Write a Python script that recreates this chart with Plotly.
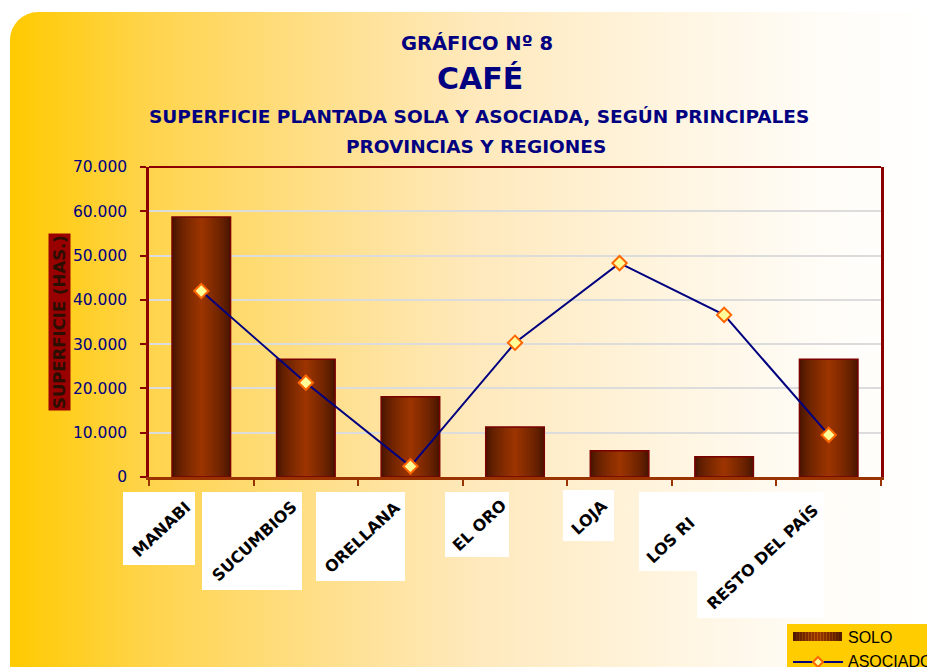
import base64
import plotly.graph_objects as go

# ---------------- data ----------------
categories = ["MANABI", "SUCUMBIOS", "ORELLANA", "EL ORO", "LOJA", "LOS RIOS", "RESTO DEL PAÍS"]
tick_labels = ["MANABI", "SUCUMBIOS", "ORELLANA", "EL ORO", "LOJA", "LOS RI", "RESTO DEL PAÍS"]
solo = [58700, 26600, 18100, 11300, 5900, 4600, 26600]
asociado = [42000, 21300, 2400, 30300, 48300, 36600, 9500]
y_ticks = [0, 10000, 20000, 30000, 40000, 50000, 60000, 70000]
series_names = ["SOLO", "ASOCIADO"]

title_lines = ["GRÁFICO Nº 8", "CAFÉ",
               "SUPERFICIE PLANTADA SOLA Y ASOCIADA, SEGÚN PRINCIPALES",
               "PROVINCIAS Y REGIONES"]
y_title = "SUPERFICIE (HAS.)"

# ---------------- geometry helpers (page pixels -> paper) ----------------
W, H = 927, 667
L, R, T, B = 149, 46, 167, 190
PW = W - L - R
PH = H - T - B


def PX(x):
    return (x - L) / PW


def PY(y):
    return ((H - B) - y) / PH


NAVY = "#000080"

# ---------------- background gradient (svg data uri) ----------------
bg_w, bg_h = 930, 690
svg = f"""<svg xmlns='http://www.w3.org/2000/svg' width='{bg_w}' height='{bg_h}' viewBox='0 0 {bg_w} {bg_h}' preserveAspectRatio='none'>
<defs><linearGradient id='g' x1='0' x2='1' y1='0' y2='0'>
<stop offset='0' stop-color='#FFCA00'/>
<stop offset='0.15' stop-color='#FFD44C'/>
<stop offset='0.35' stop-color='#FFE08F'/>
<stop offset='0.5' stop-color='#FFE9BC'/>
<stop offset='0.7' stop-color='#FFF4DE'/>
<stop offset='0.86' stop-color='#FFFCF6'/>
<stop offset='1' stop-color='#FFFFFF'/>
</linearGradient></defs>
<rect x='0' y='0' width='{bg_w}' height='{bg_h + 60}' rx='28' ry='28' fill='url(#g)'/>
</svg>"""
bg_uri = "data:image/svg+xml;base64," + base64.b64encode(svg.encode()).decode()

fig = go.Figure()

# ---------------- bars with layered gradient ----------------
edge = (72, 22, 0)
center = (155, 52, 0)
N = 14
BW = 0.56
for k in range(N):
    t = (k / (N - 1)) ** 0.75
    c = tuple(int(round(edge[i] + (center[i] - edge[i]) * t)) for i in range(3))
    fig.add_trace(go.Bar(
        x=categories, y=solo, width=BW * (1 - k / N),
        marker=dict(color="rgb(%d,%d,%d)" % c, line=dict(width=0)),
        showlegend=False, hoverinfo="skip" if k else None,
        name=series_names[0],
    ))
# outline
fig.add_trace(go.Bar(
    x=categories, y=solo, width=BW,
    marker=dict(color="rgba(0,0,0,0)", line=dict(color="#7A0000", width=1.5)),
    showlegend=False, hoverinfo="skip",
))

# ---------------- line ----------------
fig.add_trace(go.Scatter(
    x=categories, y=asociado, mode="lines+markers", name=series_names[1],
    line=dict(color=NAVY, width=2),
    marker=dict(symbol="diamond", size=11, color="#FFFF99",
                line=dict(color="#FF6600", width=2)),
    showlegend=False,
))

shapes = []
annotations = []

# top border
shapes.append(dict(type="line", xref="paper", yref="paper", x0=0, x1=1, y0=1, y1=1,
                   line=dict(color="#8B0000", width=2), layer="above"))

# x label white boxes (page px)
boxes = [(123, 492, 195, 565), (202, 492, 302, 590), (316, 492, 405, 581),
         (445, 492, 509, 557), (563, 490, 614, 541), (639, 492, 720, 571),
         (697, 492, 824, 618)]
for (x0, y0, x1, y1) in boxes:
    shapes.append(dict(type="rect", xref="paper", yref="paper",
                       x0=PX(x0), x1=PX(x1), y0=PY(y1), y1=PY(y0),
                       fillcolor="white", line=dict(width=0), layer="below"))
label_centers = [(161, 529), (254, 541), (362, 537), (479, 525), (589, 517),
                 (670, 540), (762, 557)]
for lab, (cx, cy) in zip(tick_labels, label_centers):
    annotations.append(dict(text=lab, xref="paper", yref="paper", x=PX(cx), y=PY(cy),
                            showarrow=False, textangle=-43,
                            font=dict(family="DejaVu Sans", size=16, color="black",
                                      weight="bold"),
                            xanchor="center", yanchor="middle"))

# legend (custom)
shapes.append(dict(type="rect", xref="paper", yref="paper",
                   x0=PX(787), x1=PX(935), y0=PY(672), y1=PY(624),
                   fillcolor="#FFCC00", line=dict(width=0), layer="below"))
sx0, sx1 = 793, 842
NS = 16
for i in range(NS):
    f = abs((i + 0.5) / NS - 0.5) * 2
    t = (1 - f) ** 0.75
    c = tuple(int(round(edge[j] + (center[j] - edge[j]) * t)) for j in range(3))
    xa = sx0 + (sx1 - sx0) * i / NS
    xb = sx0 + (sx1 - sx0) * (i + 1) / NS
    shapes.append(dict(type="rect", xref="paper", yref="paper",
                       x0=PX(xa), x1=PX(xb), y0=PY(641), y1=PY(632),
                       fillcolor="rgb(%d,%d,%d)" % c, line=dict(width=0), layer="below"))
shapes.append(dict(type="line", xref="paper", yref="paper",
                   x0=PX(793), x1=PX(843), y0=PY(662), y1=PY(662),
                   line=dict(color=NAVY, width=2), layer="below"))
dx, dy = 5 / PW, 5 / PH
mx, my = PX(818), PY(662)
shapes.append(dict(type="path", xref="paper", yref="paper",
                   path=f"M {mx - dx},{my} L {mx},{my + dy} L {mx + dx},{my} L {mx},{my - dy} Z",
                   fillcolor="#FFFF99", line=dict(color="#FF6600", width=2), layer="below"))
leg_font = dict(family="Liberation Sans Narrow, Arial Narrow, Liberation Sans, Arial",
                size=16, color="black")
annotations.append(dict(text=series_names[0], xref="paper", yref="paper", x=PX(846), y=PY(637),
                        showarrow=False, xanchor="left", yanchor="middle", font=leg_font))
annotations.append(dict(text=series_names[1], xref="paper", yref="paper", x=PX(846), y=PY(661),
                        showarrow=False, xanchor="left", yanchor="middle", font=leg_font))

# titles
tfont = "DejaVu Sans"
title_specs = [(title_lines[0], 477, 43, 19.5), (title_lines[1], 480, 79, 30),
               (title_lines[2], 479, 117, 18.5), (title_lines[3], 476, 146, 18.5)]
for txt, cx, cy, sz in title_specs:
    annotations.append(dict(text=txt, xref="paper", yref="paper", x=PX(cx), y=PY(cy),
                            showarrow=False, xanchor="center", yanchor="middle",
                            font=dict(family=tfont, size=sz, color=NAVY, weight="bold")))

# y axis title box
annotations.append(dict(text=y_title, xref="paper", yref="paper", x=PX(59.5), y=PY(322.5),
                        showarrow=False, textangle=-90, xanchor="center", yanchor="middle",
                        bgcolor="#990000", borderpad=1,
                        font=dict(family="DejaVu Sans", size=16.5, color="#2A0E00",
                                  weight="bold")))

fig.update_layout(
    width=W, height=H,
    margin=dict(l=L, r=R, t=T, b=B, pad=0),
    paper_bgcolor="white",
    plot_bgcolor="rgba(0,0,0,0)",
    barmode="overlay",
    separators=",.",
    showlegend=False,
    shapes=shapes,
    annotations=annotations,
    images=[dict(source=bg_uri, xref="paper", yref="paper",
                 x=PX(10), y=PY(12), sizex=bg_w / PW, sizey=bg_h / PH,
                 xanchor="left", yanchor="top", sizing="stretch", layer="below")],
    xaxis=dict(range=[-0.5, 6.5], showticklabels=False, showgrid=False,
               showline=True, linecolor="#993300", linewidth=2.5,
               ticks="outside", tickson="boundaries", ticklen=6, tickwidth=2,
               tickcolor="#993300", zeroline=False, fixedrange=True),
    yaxis=dict(range=[0, 70000], tickvals=y_ticks, tickformat=",d",
               showgrid=True, gridcolor="#DCDCDC", gridwidth=2,
               showline=True, linecolor="#8B0000", linewidth=2.5, mirror=True,
               ticks="outside", ticklen=6, tickwidth=2, tickcolor="#8B0000",
               ticklabelstandoff=10,
               tickfont=dict(family="DejaVu Sans", size=15.5, color=NAVY),
               zeroline=False, fixedrange=True),
)

fig.write_html("out.html", config={"displayModeBar": False},
               post_script="document.body.style.margin='0';document.body.style.overflow='hidden';")
